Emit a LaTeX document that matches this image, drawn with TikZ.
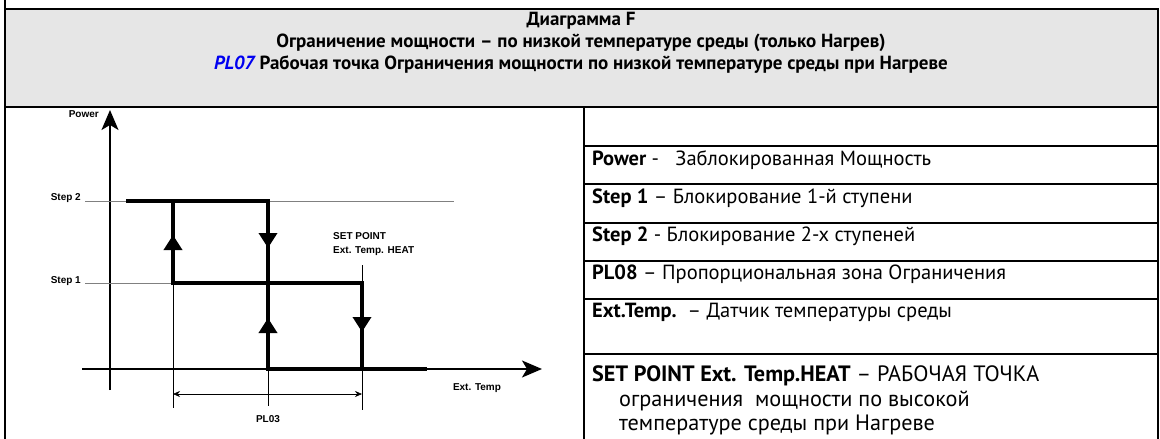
\documentclass[tikz,border=0pt]{standalone}
\usepackage{fontspec}
\setmainfont{PT Sans}
\newfontfamily\chartfont{Liberation Sans}
\usetikzlibrary{arrows.meta}
\definecolor{hdrgray}{HTML}{E6E6E6}
\definecolor{plblue}{HTML}{0000F0}
\tikzset{
  frame/.style={line width=2.5pt},
  rowline/.style={line width=2pt},
  heavy/.style={line width=3.5pt},
  axis/.style={line width=1.6pt},
  guide/.style={line width=0.7pt, black!50},
  dim/.style={line width=0.6pt},
  lbl/.style={font=\chartfont\bfseries\fontsize{10}{14}\selectfont, inner sep=0pt},
  hdr/.style={font=\bfseries\fontsize{19}{23}\selectfont, inner sep=0pt},
  cell/.style={font=\fontsize{20.5}{24}\selectfont, anchor=west, inner sep=0pt},
  bigcell/.style={font=\fontsize{22.2}{26}\selectfont, anchor=west, inner sep=0pt},
  tip/.style={-{Triangle[length=15pt,width=18pt]}},
}
\begin{document}
\begin{tikzpicture}[x=1pt, y=-1pt]
  \useasboundingbox (0,0) rectangle (1160,439);
  % шапка
  \fill[hdrgray] (5,9) rectangle (1157,107);
  \draw[frame] (5,0) -- (5,439);
  \draw[frame] (5,9) -- (1158,9) -- (1158,439);
  \draw[frame] (5,107) -- (1158,107);
  \node[hdr] (ttl) at (581,21) {Диаграмма F};
  \node[hdr] (sub) at (581,43) {Ограничение мощности – по низкой температуре среды (только Нагрев)};
  \node[hdr] (pl) at (581,65) {{\color{plblue}\itshape PL07} Рабочая точка Ограничения мощности по низкой температуре среды при Нагреве};

  % таблица
  \draw[rowline] (584,107) -- (584,439);
  \foreach \y in {146,184,223,261,299,354}
    \draw[rowline] (584,\y) -- (1158,\y);
  \node[cell] (pw) at (592,160) {\textbf{Power} -\ \ \ Заблокированная Мощность};
  \node[cell] (s1) at (592,198) {\textbf{Step 1} – Блокирование 1-й ступени};
  \node[cell] (s2) at (592,236) {\textbf{Step 2} - Блокирование 2-х ступеней};
  \node[cell] (pl8) at (592,274) {\textbf{PL08} – Пропорциональная зона Ограничения};
  \node[cell] (et) at (592,312) {\textbf{Ext.Temp.}\ \ – Датчик температуры среды};
  \node[bigcell] (sp1) at (592,376) {\textbf{SET POINT Ext. Temp.HEAT} – РАБОЧАЯ ТОЧКА};
  \node[bigcell] (sp2) at (619,401) {ограничения\ \ мощности по высокой};
  \node[bigcell] (sp3) at (619,425) {температуре среды при Нагреве};

  % оси
  \draw[axis, -{Stealth[length=20pt,width=17pt,inset=5pt]}] (110,390) -- (110,110);
  \draw[axis, -{Stealth[length=20pt,width=17pt,inset=5pt]}] (82,369) -- (542,369);
  \node[lbl, anchor=east] (pwr) at (99,114) {Power};
  \node[lbl] (xt) at (477,388) {Ext. Temp};

  % уровни
  \draw[guide] (85,201) -- (454,201);
  \draw[guide] (85,283) -- (362,283);
  \node[lbl, anchor=east] (st2) at (81,198) {Step 2};
  \node[lbl, anchor=east] (st1) at (81,281) {Step 1};

  % петля
  \draw[heavy] (126,201) -- (268,201) -- (268,369) -- (427,369);
  \draw[heavy] (173,201) -- (173,283) -- (362,283) -- (362,369);
  \draw[heavy, tip] (173,260) -- (173,235);
  \draw[heavy, tip] (268,225) -- (268,248);
  \draw[heavy, tip] (268,340) -- (268,318);
  \draw[heavy, tip] (362,305) -- (362,332);

  % уставка
  \draw[dim] (362,265) -- (362,283);
  \node[lbl, anchor=north west, align=left] (set) at (333,232) {SET POINT\\Ext. Temp. HEAT};

  % зона PL03
  \draw[dim] (173,283) -- (173,408);
  \draw[dim] (268,369) -- (268,406);
  \draw[dim] (362,369) -- (362,410);
  \draw[dim, {Stealth[length=7pt,width=6pt]}-{Stealth[length=7pt,width=6pt]}] (173,394) -- (362,394);
  \node[lbl] (pl3) at (268,419) {PL03};
\end{tikzpicture}
\end{document}
